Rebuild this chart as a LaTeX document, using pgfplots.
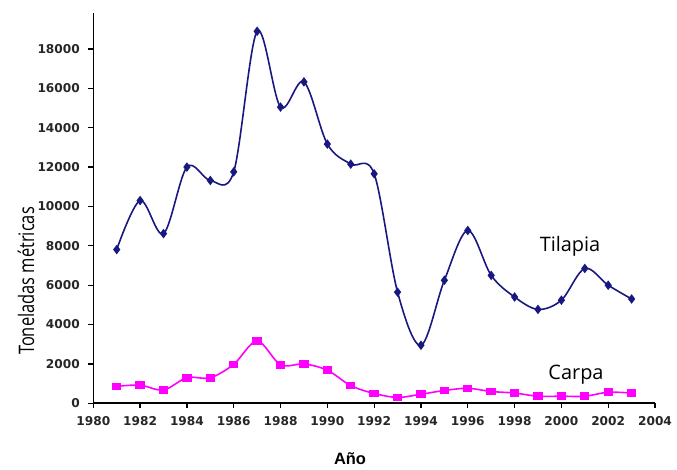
\documentclass[border=0pt]{standalone}
\usepackage{pgfplots}
\pgfplotsset{compat=1.18}
\usepackage{fontspec}
\setmainfont{DejaVu Sans}
\newfontfamily\labfont{Open Sans}
\newfontfamily\arialfont{Liberation Sans}
\definecolor{tilcol}{RGB}{24,24,128}
\definecolor{carcol}{RGB}{255,0,255}
\begin{document}
\begin{tikzpicture}[x=1bp,y=1bp]
\path[use as bounding box] (0,0) rectangle (677,470);
\begin{axis}[
  at={(93.3bp,66.7bp)}, anchor=south west,
  scale only axis, width=561.7bp, height=390.3bp,
  xmin=1980, xmax=2004, ymin=0, ymax=19830,
  axis lines*=left,
  axis line style={line width=1.6bp, black},
  xtick={1980,1982,...,2004}, ytick={0,2000,...,18000},
  scaled y ticks=false, scaled x ticks=false,
  tick style={line width=1.3bp, black},
  tick align=outside, major tick length=5bp,
  /pgf/number format/1000 sep={},
  /pgf/number format/assume math mode=true,
  tick label style={font=\fontsize{12.2}{14}\selectfont\bfseries, text=black!85},
  yticklabel style={xshift=-5bp},
  xticklabel style={yshift=-5bp},
  clip=false,
]
\addplot[smooth, tension=0.55, tilcol, line width=1.6bp, mark=diamond*, mark size=3.5bp, mark options={solid}] coordinates {
(1981,7810) (1982,10300) (1983,8620) (1984,12000) (1985,11320) (1986,11760)
(1987,18900) (1988,15050) (1989,16330) (1990,13170) (1991,12150) (1992,11660)
(1993,5650) (1994,2950) (1995,6250) (1996,8780) (1997,6500) (1998,5400)
(1999,4770) (2000,5240) (2001,6850) (2002,6000) (2003,5300)
};
\addplot[smooth, tension=0.55, carcol, line width=1.6bp, mark=square*, mark size=3bp, mark options={solid, xscale=1.3}] coordinates {
(1981,860) (1982,920) (1983,680) (1984,1300) (1985,1300) (1986,1980)
(1987,3160) (1988,1960) (1989,2000) (1990,1680) (1991,900) (1992,500)
(1993,300) (1994,460) (1995,650) (1996,760) (1997,600) (1998,520)
(1999,360) (2000,360) (2001,360) (2002,560) (2003,520)
};
\end{axis}
\node[rotate=90] at (26,189) {\scalebox{1}[1.3]{\labfont\fontsize{16.5}{18}\selectfont Toneladas métricas}};
\node[anchor=base, inner sep=0pt] at (350,5) {\arialfont\bfseries\fontsize{16.5}{18}\selectfont Año};
\node[anchor=base, inner sep=0pt] at (570,218) {\labfont\fontsize{20}{22}\selectfont Tilapia};
\node[anchor=base, inner sep=0pt] at (576,90) {\labfont\fontsize{20}{22}\selectfont Carpa};
\end{tikzpicture}
\end{document}
